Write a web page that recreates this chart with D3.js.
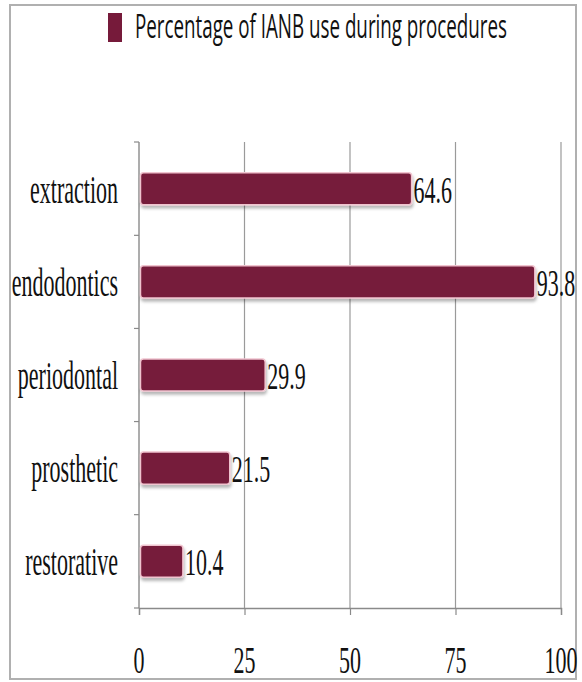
<!DOCTYPE html>
<html>
<head>
<meta charset="utf-8">
<script src="https://cdn.jsdelivr.net/npm/d3@7"></script>
<style>
  html, body { margin: 0; padding: 0; background: #fff; }
  svg { display: block; }
</style>
</head>
<body>
<svg id="chart" width="582" height="682"></svg>
<script>
// Share of procedures using an inferior alveolar nerve block (IANB)
const categories = ["extraction", "endodontics", "periodontal", "prosthetic", "restorative"];
const values = [64.6, 93.8, 29.9, 21.5, 10.4];
const xTicks = [0, 25, 50, 75, 100];
const seriesName = "Percentage of IANB use during procedures";

const barColor = "#761a3a";
const svg = d3.select("#chart");

const plot = { left: 139, right: 561, top: 142, bottom: 608 };
const sy = 1.8; // vertical stretch of the serif labels

const x = d3.scaleLinear().domain([0, 100]).range([plot.left, plot.right]);
const y = d3.scaleBand().domain(categories).range([plot.top, plot.bottom]).paddingInner(0.655).paddingOuter(0.33);

// outer frame
svg.append("rect")
  .attr("x", 10).attr("y", 5).attr("width", 566).attr("height", 674)
  .attr("fill", "none").attr("stroke", "#b0b0b0").attr("stroke-width", 2);

// soft shadow under bars
const defs = svg.append("defs");
const f = defs.append("filter").attr("id", "shadow").attr("x", "-10%").attr("y", "-30%").attr("width", "120%").attr("height", "180%");
f.append("feDropShadow").attr("dx", 1).attr("dy", 3).attr("stdDeviation", 1.6)
  .attr("flood-color", "#000").attr("flood-opacity", 0.28);

// vertical gridlines
svg.append("g").selectAll("line").data(xTicks.filter(d => d > 0)).join("line")
  .attr("x1", d => x(d)).attr("x2", d => x(d))
  .attr("y1", plot.top).attr("y2", plot.bottom)
  .attr("stroke", "#9a9a9a").attr("stroke-width", 1.2);

// x axis
const xAxis = svg.append("g").attr("transform", `translate(0,${plot.bottom})`)
  .call(d3.axisBottom(x).tickValues(xTicks).tickSize(7).tickFormat(""));
xAxis.select(".domain").attr("stroke", "#8a8a8a").attr("stroke-width", 1.4);
xAxis.selectAll(".tick line").attr("stroke", "#8a8a8a").attr("stroke-width", 1.2);

// x tick labels
svg.append("g").selectAll("text").data(xTicks).join("text")
  .attr("transform", d => `translate(${x(d)},673) scale(1,1.72)`)
  .attr("text-anchor", "middle")
  .attr("font-family", "'Liberation Serif', 'Times New Roman', serif")
  .attr("font-size", 22).attr("fill", "#111")
  .text(d => d);

// y axis with boundary ticks
const bounds = categories.map(c => y(c) - y.step() * y.paddingInner() / 2);
bounds[0] = plot.top;
bounds.push(plot.bottom);
svg.append("line").attr("x1", plot.left).attr("x2", plot.left)
  .attr("y1", plot.top).attr("y2", plot.bottom)
  .attr("stroke", "#8a8a8a").attr("stroke-width", 1.4);
svg.append("g").selectAll("line").data(bounds).join("line")
  .attr("x1", plot.left - 5).attr("x2", plot.left)
  .attr("y1", d => d).attr("y2", d => d)
  .attr("stroke", "#8a8a8a").attr("stroke-width", 1.2);

// bars
svg.append("g").selectAll("rect").data(values).join("rect")
  .attr("x", x(0) + 1.5)
  .attr("y", (d, i) => y(categories[i]))
  .attr("width", d => x(d) - x(0) - 1.5)
  .attr("height", y.bandwidth())
  .attr("rx", 3).attr("ry", 3)
  .attr("fill", barColor)
  .attr("stroke", "#f0c4cf").attr("stroke-width", 1.5)
  .attr("filter", "url(#shadow)");

// value labels
svg.append("g").selectAll("text").data(values).join("text")
  .attr("transform", (d, i) => `translate(${x(d) + 2},${y(categories[i]) + y.bandwidth() / 2 + 14}) scale(1,1.75)`)
  .attr("font-family", "'Liberation Serif', 'Times New Roman', serif")
  .attr("font-size", 22).attr("fill", "#111")
  .text(d => d.toFixed(1));

// category labels
svg.append("g").selectAll("text").data(categories).join("text")
  .attr("transform", d => `translate(118,${y(d) + y.bandwidth() / 2 + 14}) scale(1,${sy})`)
  .attr("text-anchor", "end")
  .attr("font-family", "'Liberation Serif', 'Times New Roman', serif")
  .attr("font-size", 22).attr("fill", "#111")
  .text(d => d);

// legend
const legend = svg.append("g");
legend.append("rect").attr("x", 108).attr("y", 13).attr("width", 14).attr("height", 29)
  .attr("fill", barColor);
legend.append("text")
  .attr("transform", "translate(135,38) scale(1,1.68)")
  .attr("font-family", "'Open Sans', 'Noto Sans', sans-serif")
  .attr("font-size", 20).attr("fill", "#111")
  .attr("textLength", 372).attr("lengthAdjust", "spacingAndGlyphs")
  .text(seriesName);
</script>
</body>
</html>
